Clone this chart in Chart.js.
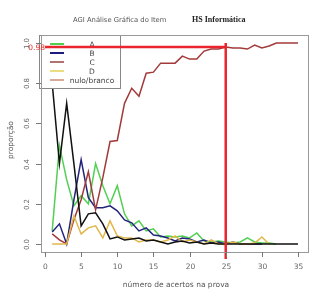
<!DOCTYPE html>
<html>
<head>
<meta charset="utf-8">
<script src="https://cdn.jsdelivr.net/npm/chart.js@4/dist/chart.umd.min.js"></script>
<style>
  html, body { margin: 0; padding: 0; background: #fff; }
  #wrap { width: 328px; height: 298px; }
</style>
</head>
<body>
<div id="wrap"><canvas id="chart" width="328" height="298"></canvas></div>
<script>
// número de acertos (x) 1..35
const acertos = [1,2,3,4,5,6,7,8,9,10,11,12,13,14,15,16,17,18,19,20,21,22,23,24,25,26,27,28,29,30,31,32,33,34,35];

// proporção por alternativa
const serieA = [0.065,0.49,0.32,0.19,0.24,0.20,0.40,0.29,0.20,0.29,0.15,0.09,0.115,0.065,0.075,0.035,0.04,0.035,0.04,0.03,0.055,0.015,0.01,0.015,0.01,0.005,0.01,0.03,0.01,0.005,0.005,0.0];
const serieB = [0.06,0.10,0.0,0.22,0.42,0.23,0.18,0.18,0.19,0.165,0.12,0.105,0.065,0.08,0.045,0.04,0.03,0.015,0.03,0.025,0.01,0.02,0.005,0.01,0.0,0.01,0.0,0.0,0.0,0.0];
const serieC = [0.05,0.02,0.0,0.12,0.22,0.36,0.17,0.33,0.51,0.515,0.70,0.775,0.735,0.85,0.855,0.90,0.90,0.90,0.935,0.92,0.92,0.96,0.97,0.97,0.98,0.975,0.975,0.97,0.99,0.975,0.985,1.0,1.0,1.0,1.0];
const serieD = [0,0,0,0.14,0.05,0.08,0.09,0.03,0.115,0.04,0.03,0.03,0.01,0.02,0.02,0.01,0.02,0.04,0.01,0.02,0.01,0.0,0.02,0.0,0.0,0.01,0.0,0.0,0.005,0.035,0.0];
const serieNulo = [0.80,0.40,0.70,0.40,0.09,0.15,0.155,0.10,0.025,0.035,0.02,0.025,0.03,0.015,0.02,0.01,0.0,0.01,0.015,0.005,0.01,0.0,0.005,0.0,0,0,0,0,0,0,0,0,0,0,0];

// reference lines
const corteX = 25;
const corteY = 0.98;
const corteLabel = "0.98";

// axis ticks
const xTicks = [0,5,10,15,20,25,30,35];
const yTicks = [0,0.2,0.4,0.6,0.8,1.0];
const yTickLabels = ["0.0","0.2","0.4","0.6","0.8","1.0"];

// legend
const legendLabels = ["A","B","C","D","nulo/branco"];
const legendColors = ["#4fd04f","#1c1c7e","#b27272","#ecdc80","#d6ac98"];

function pts(vals) {
    return vals.map((v, i) => ({ x: acertos[i], y: v }));
}

const lineStyle = { pointRadius: 0, borderWidth: 1.5, tension: 0, fill: false };

const decorPlugin = {
    id: "decor",
    afterDatasetDraw(chart, args) {
        // legend drawn over the curves but under the red cut lines
        if (args.index !== 2) return;
        const c = chart.ctx;
        c.save();
        c.fillStyle = "#fff";
        c.fillRect(39, 35, 81, 53);
        c.strokeStyle = "#888";
        c.lineWidth = 1;
        c.strokeRect(39.5, 35.5, 81, 53);
        c.font = "7.5px 'DejaVu Sans', sans-serif";
        c.textAlign = "center";
        c.textBaseline = "middle";
        legendLabels.forEach((lab, i) => {
            const y = 44 + i * 9;
            c.strokeStyle = legendColors[i];
            c.lineWidth = 2;
            c.beginPath();
            c.moveTo(50, y);
            c.lineTo(64, y);
            c.stroke();
            c.fillStyle = "#444";
            c.fillText(lab, 92, y + 1);
        });
        c.restore();
    },
    afterDraw(chart) {
        const c = chart.ctx;
        const xs = chart.scales.x, ys = chart.scales.y;
        const a = chart.chartArea;
        c.save();
        // frame
        c.strokeStyle = "#999";
        c.lineWidth = 1;
        c.strokeRect(a.left + 0.5, a.top + 0.5, a.right - a.left, a.bottom - a.top);

        c.fillStyle = "#666";
        c.strokeStyle = "#777";
        // x axis ticks
        c.font = "7.5px 'DejaVu Sans', sans-serif";
        c.textAlign = "center";
        c.textBaseline = "middle";
        xTicks.forEach(t => {
            const px = Math.round(xs.getPixelForValue(t)) + 0.5;
            c.beginPath();
            c.moveTo(px, a.bottom);
            c.lineTo(px, a.bottom + 5);
            c.stroke();
            c.fillText(String(t), px, 267);
        });
        // y axis ticks, rotated labels
        yTicks.forEach((t, i) => {
            const py = Math.round(ys.getPixelForValue(t)) + 0.5;
            c.beginPath();
            c.moveTo(a.left, py);
            c.lineTo(a.left - 5, py);
            c.stroke();
            c.save();
            c.translate(27, py);
            c.rotate(-Math.PI / 2);
            c.font = "7px 'DejaVu Sans', sans-serif";
            c.fillText(yTickLabels[i], 0, 0);
            c.restore();
        });
        // axis titles
        c.fillStyle = "#555";
        c.font = "7.5px 'DejaVu Sans', sans-serif";
        c.fillText("número de acertos na prova", 176, 285);
        c.save();
        c.translate(11, 140);
        c.rotate(-Math.PI / 2);
        c.fillText("proporção", 0, 0);
        c.restore();

        // cut label
        c.fillStyle = "#e03030";
        c.textAlign = "right";
        c.font = "7.5px 'DejaVu Sans', sans-serif";
        c.fillText(corteLabel, 45, ys.getPixelForValue(corteY) + 1);

        // header
        c.textAlign = "left";
        c.fillStyle = "#555";
        c.font = "6.8px 'DejaVu Sans', sans-serif";
        c.fillText("AGI Análise Gráfica do Item", 73, 20);
        c.fillStyle = "#222";
        c.font = "bold 8px 'Liberation Serif', serif";
        c.fillText("HS Informática", 192, 20);
        c.restore();
    }
};

new Chart(document.getElementById("chart"), {
    type: "line",
    data: {
        datasets: [
            { label: "corteH", data: [{ x: 0, y: corteY }, { x: corteX, y: corteY }],
              borderColor: "#e8262c", borderWidth: 2.5, pointRadius: 0, clip: false },
            { label: "corteV", data: [{ x: corteX, y: 1.0 }, { x: corteX, y: -0.075 }],
              borderColor: "#e8262c", borderWidth: 2.5, pointRadius: 0, clip: false },
            { label: "nulo/branco", data: pts(serieNulo), borderColor: "#111", ...lineStyle },
            { label: "D", data: pts(serieD), borderColor: "#e3b84a", ...lineStyle },
            { label: "C", data: pts(serieC), borderColor: "#a33a3a", ...lineStyle },
            { label: "B", data: pts(serieB), borderColor: "#24247e", ...lineStyle },
            { label: "A", data: pts(serieA), borderColor: "#52d052", ...lineStyle }
        ]
    },
    options: {
        responsive: false,
        animation: false,
        layout: { padding: { left: 41, right: 20, top: 35, bottom: 46 } },
        plugins: {
            legend: { display: false },
            tooltip: { enabled: false }
        },
        scales: {
            x: { type: "linear", min: -0.55, max: 36.38, display: false },
            y: { type: "linear", min: -0.04, max: 1.04, display: false }
        }
    },
    plugins: [decorPlugin]
});
</script>
</body>
</html>
